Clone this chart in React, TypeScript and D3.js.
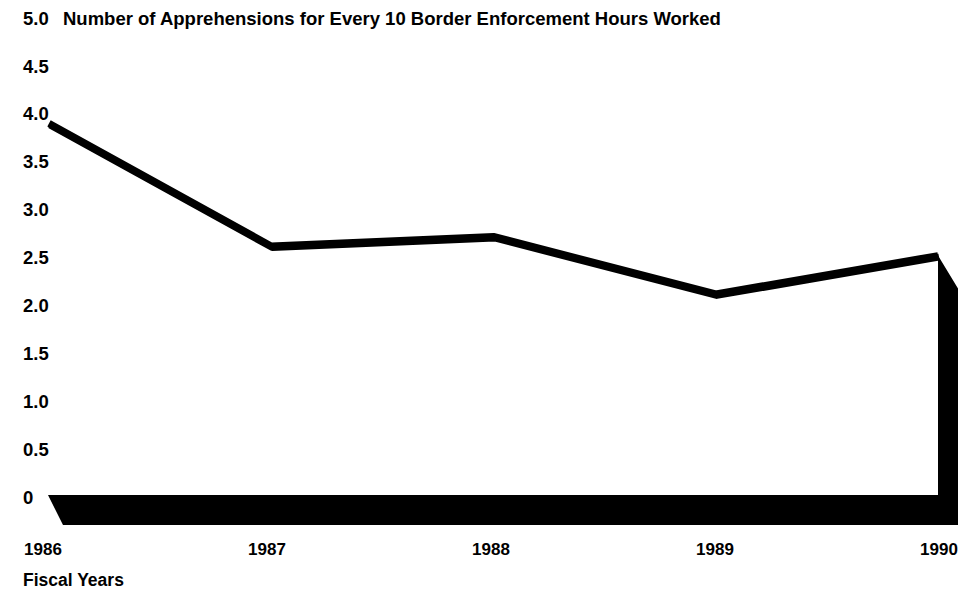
import React from "react";
import * as d3 from "d3";

const years = [1986, 1987, 1988, 1989, 1990];
const apprehensions = [3.9, 2.62, 2.72, 2.12, 2.52];
const yTicks = [0, 0.5, 1.0, 1.5, 2.0, 2.5, 3.0, 3.5, 4.0, 4.5, 5.0];
const yTickLabels = ["0", "0.5", "1.0", "1.5", "2.0", "2.5", "3.0", "3.5", "4.0", "4.5", "5.0"];
const title = "Number of Apprehensions for Every 10 Border Enforcement Hours Worked";
const xTitle = "Fiscal Years";

const W = 966;
const H = 598;
const FONT = "'Liberation Sans', Arial, Helvetica, sans-serif";

export default function App() {
  const x = d3.scaleLinear().domain([1986, 1990]).range([49, 938]);
  const xLabel = d3.scaleLinear().domain([1986, 1990]).range([43, 939]);
  const y = d3.scaleLinear().domain([0, 5]).range([497, 18]);

  const line = d3
    .line<number>()
    .x((_, i) => x(years[i]))
    .y((d) => y(d));

  const pts = apprehensions.map((v, i) => [x(years[i]), y(v)]);
  const last = pts[pts.length - 1];
  const baseTop = y(0) - 2;
  const baseBot = y(0) + 28;
  const shape = [
    [x(1986) - 1, baseTop],
    [last[0], baseTop],
    [last[0], last[1]],
    [last[0] + 20, last[1] + 33],
    [last[0] + 20, baseBot],
    [x(1986) + 14, baseBot],
  ];

  return (
    <svg
      width={W}
      height={H}
      style={{ position: "absolute", left: 0, top: 0, background: "#fff" }}
    >
      <rect width={W} height={H} fill="#fff" />
      {yTicks.map((t, i) => (
        <text
          key={t}
          x={23}
          y={y(t)}
          dy="0.36em"
          fontFamily={FONT}
          fontWeight="bold"
          fontSize={18.5}
          fill="#000"
        >
          {yTickLabels[i]}
        </text>
      ))}
      <text
        x={63}
        y={y(5)}
        dy="0.36em"
        fontFamily={FONT}
        fontWeight="bold"
        fontSize={18.5}
        fill="#000"
      >
        {title}
      </text>
      <polygon points={shape.map((p) => p.join(",")).join(" ")} fill="#000" />
      <path
        d={line(apprehensions) || ""}
        fill="none"
        stroke="#000"
        strokeWidth={7}
        strokeLinejoin="round"
        transform="translate(1,1.5)"
      />
      <path
        d={line(apprehensions) || ""}
        fill="none"
        stroke="#000"
        strokeWidth={7}
        strokeLinejoin="round"
      />
      {years.map((yr) => (
        <text
          key={yr}
          x={xLabel(yr)}
          y={549}
          dy="0.36em"
          textAnchor="middle"
          fontFamily={FONT}
          fontWeight="bold"
          fontSize={17}
          fill="#000"
        >
          {yr}
        </text>
      ))}
      <text
        x={23}
        y={580}
        dy="0.36em"
        fontFamily={FONT}
        fontWeight="bold"
        fontSize={17.5}
        fill="#000"
      >
        {xTitle}
      </text>
    </svg>
  );
}
